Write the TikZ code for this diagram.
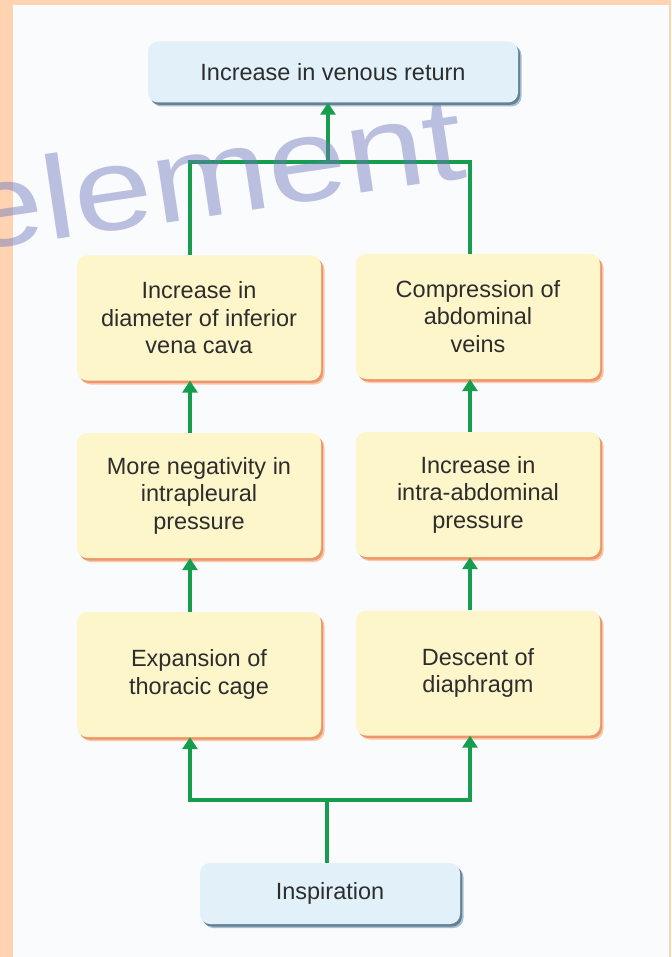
\documentclass[tikz,border=0pt]{standalone}
\usepackage{fontspec}
\setmainfont{Liberation Sans}
\usetikzlibrary{arrows.meta}
\definecolor{peach}{RGB}{253,211,178}
\definecolor{panel}{RGB}{249,251,253}
\definecolor{boxyellow}{RGB}{254,246,203}
\definecolor{boxblue}{RGB}{226,241,249}
\definecolor{shorangeL}{RGB}{248,200,170}
\definecolor{shorangeD}{RGB}{236,150,105}
\definecolor{shblueL}{RGB}{170,190,205}
\definecolor{shblueD}{RGB}{100,130,150}
\definecolor{flowgreen}{RGB}{22,158,78}
\definecolor{txt}{RGB}{45,45,45}
\definecolor{wm}{RGB}{110,118,190}
\tikzset{
  basebox/.style={rounded corners=10pt, inner sep=0pt, align=center, text=txt,
    font=\fontsize{23.5}{27.5}\selectfont},
  ybox/.style={basebox, fill=boxyellow, minimum width=244pt, minimum height=125pt,
    preaction={fill=shorangeL, transform canvas={shift={(3.5pt,-4pt)}}},
    preaction={fill=shorangeD, transform canvas={shift={(2pt,-2.5pt)}}}},
  bbox/.style={basebox, fill=boxblue, minimum height=61pt,
    preaction={fill=shblueL, transform canvas={shift={(3.5pt,-4pt)}}},
    preaction={fill=shblueD, transform canvas={shift={(2pt,-2.5pt)}}}},
  link/.style={draw=flowgreen, line width=3.2pt},
  arr/.style={link, -{Triangle[width=15pt,length=12pt]}}
}
\begin{document}
\begin{tikzpicture}[x=1pt,y=-1pt]
\useasboundingbox (0,0) rectangle (671,957);
% background
\fill[peach] (0,0) rectangle (671,957);
\fill[panel] (13,5) rectangle (669,957);

% boxes
\node[bbox, minimum width=370pt] (top) at (333,72) {Increase in venous return};
\node[ybox] (l1) at (199,318) {Increase in\\diameter of inferior\\vena cava};
\node[ybox] (r1) at (478,316.5) {Compression of\\abdominal\\veins};
\node[ybox] (l2) at (199,495.5) {More negativity in\\intrapleural\\pressure};
\node[ybox] (r2) at (478,494.5) {Increase in\\intra-abdominal\\pressure};
\node[ybox] (l3) at (199,674.5) {Expansion of\\thoracic cage};
\node[ybox] (r3) at (478,673) {Descent of\\diaphragm};
\node[bbox, minimum width=260pt] (bot) at (330,893.5) {Inspiration};

% guide coordinates
\coordinate (xl) at (190,0);
\coordinate (xr) at (470,0);
\coordinate (xm) at (328,0);
\coordinate (xb) at (327,0);
\coordinate (yt) at (0,162);
\coordinate (yb) at (0,800);

% connectors
\draw[link] (xl |- l1.north) -- (xl |- yt) -- (xr |- yt) -- (xr |- r1.north);
\draw[arr] (xm |- yt) -- (xm |- top.south);
\draw[arr] (xl |- l2.north) -- (xl |- l1.south);
\draw[arr] (xr |- r2.north) -- (xr |- r1.south);
\draw[arr] (xl |- l3.north) -- (xl |- l2.south);
\draw[arr] (xr |- r3.north) -- (xr |- r2.south);
\draw[link] (xb |- bot.north) -- (xb |- yb);
\draw[arr] (xb |- yb) -| (xl |- l3.south);
\draw[arr] (xb |- yb) -| (xr |- r3.south);

% watermark
\node[anchor=base west, rotate=8.5, inner sep=0pt, text=wm, opacity=0.45,
  font=\fontsize{118}{118}\selectfont] (wmark) at (-30,252) {\scalebox{1.2}[1]{element}};
\end{tikzpicture}
\end{document}
